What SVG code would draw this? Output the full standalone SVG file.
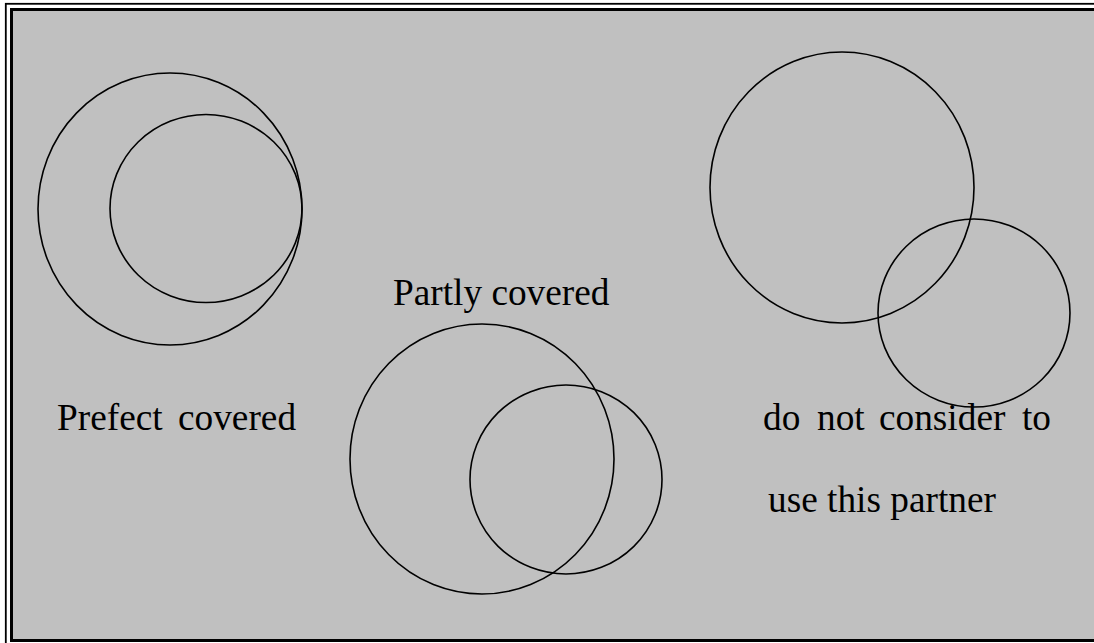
<svg xmlns="http://www.w3.org/2000/svg" width="1094" height="643" viewBox="0 0 1094 643">
<style>
.c{fill:none;stroke:#000;stroke-width:1.6}
.t{font-family:"Liberation Serif","Times New Roman",serif;font-size:37.3px;fill:#000}
</style>
<rect x="0" y="0" width="1094" height="643" fill="#fff"/>
<rect x="5.8" y="3.8" width="1200" height="700" fill="none" stroke="#000" stroke-width="1.8"/>
<rect x="11.5" y="9.5" width="1200" height="631" fill="#c0c0c0" stroke="#000" stroke-width="3"/>
<g id="perfect">
<ellipse class="c" cx="170" cy="209" rx="132" ry="136"/>
<ellipse class="c" cx="206" cy="208.5" rx="96" ry="94"/>
<text class="t" y="430"><tspan x="57">Prefect</tspan><tspan x="178">covered</tspan></text>
</g>
<g id="partly">
<ellipse class="c" cx="482" cy="459" rx="132" ry="135"/>
<ellipse class="c" cx="566" cy="479.5" rx="96" ry="94.5"/>
<text class="t" x="393" y="305">Partly covered</text>
</g>
<g id="notconsider">
<ellipse class="c" cx="842" cy="187.5" rx="132" ry="135.5"/>
<ellipse class="c" cx="974" cy="313" rx="96" ry="94"/>
<text class="t" y="430"><tspan x="763">do</tspan><tspan x="817">not</tspan><tspan x="879">consider</tspan><tspan x="1022">to</tspan></text>
<text class="t" x="768" y="512">use this partner</text>
</g>
<g id="connectors"/>
</svg>
